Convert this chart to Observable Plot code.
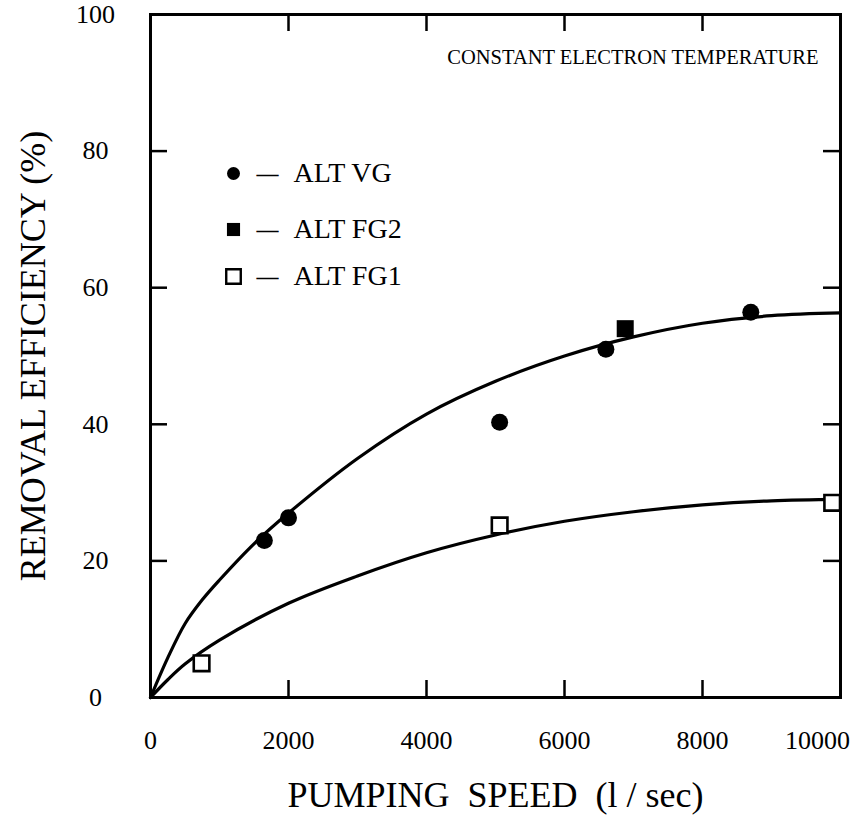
<!DOCTYPE html>
<html>
<head>
<meta charset="utf-8">
<script src="https://cdn.jsdelivr.net/npm/d3@7"></script>
<script src="https://cdn.jsdelivr.net/npm/@observablehq/plot@0.6"></script>
<style>
  html, body { margin: 0; padding: 0; background: #fff; }
  svg { font-family: "Liberation Serif", "Times New Roman", serif; }
</style>
</head>
<body>
<div id="chart"></div>
<script>
// ---- data ----
const vgX = [1650, 2000, 5060, 6600, 8700];
const vgY = [23.0, 26.3, 40.3, 51.0, 56.4];
const fg2X = [6880];
const fg2Y = [54.0];
const fg1X = [740, 5060, 9880];
const fg1Y = [5.0, 25.2, 28.5];

// fitted curves as drawn in the figure
const upperX = [0, 250, 500, 750, 1000, 1500, 2000, 3000, 4000, 5000, 6000, 7000, 8000, 9000, 10000];
const upperY = [0, 5.8, 10.8, 14.3, 17.2, 22.5, 27.0, 35.0, 41.5, 46.3, 50.0, 52.8, 54.8, 55.9, 56.3];
const lowerX = [0, 250, 500, 1000, 2000, 3000, 4000, 5000, 6000, 7000, 8000, 9000, 10000];
const lowerY = [0, 2.6, 4.9, 8.4, 13.8, 17.8, 21.2, 23.8, 25.8, 27.2, 28.2, 28.8, 29.0];

const xTickLabels = [0, 2000, 4000, 6000, 8000];
const xLastTick = [10000];
const yTickLabels = [0, 20, 40, 60, 80, 100];
const xInnerTicks = [2000, 4000, 6000, 8000];
const yInnerTicks = [20, 40, 60, 80];

const legendLabels = ["ALT VG", "ALT FG2", "ALT FG1"];
const xTitle = "PUMPING  SPEED  (l / sec)";
const yTitle = "REMOVAL EFFICIENCY (%)";
const note = "CONSTANT ELECTRON TEMPERATURE";

const pts = (xs, ys) => xs.map((x, i) => ({x, y: ys[i]}));

const W = 860, H = 818;
const mt = 14, mr = 20, mb = 121, ml = 150;
const fw = W - ml - mr, fh = H - mt - mb;
const tick = 17;
const font = "Liberation Serif";

const legendRows = [159, 215, 262];

const chart = Plot.plot({
  width: W,
  height: H,
  marginTop: mt, marginRight: mr, marginBottom: mb, marginLeft: ml,
  style: {fontFamily: font, background: "#fff", color: "#000", overflow: "visible"},
  x: {domain: [0, 10000], axis: null},
  y: {domain: [0, 100], axis: null},
  marks: [
    Plot.frame({stroke: "#000", strokeWidth: 3}),
    // inward ticks
    Plot.ruleX(xInnerTicks, {x: d => d, insetTop: fh - tick, stroke: "#000", strokeWidth: 2.5}),
    Plot.ruleX(xInnerTicks, {x: d => d, insetBottom: fh - tick, stroke: "#000", strokeWidth: 2.5}),
    Plot.ruleY(yInnerTicks, {y: d => d, insetRight: fw - tick, stroke: "#000", strokeWidth: 2.5}),
    Plot.ruleY(yInnerTicks, {y: d => d, insetLeft: fw - tick, stroke: "#000", strokeWidth: 2.5}),
    // tick labels
    Plot.text(xTickLabels, {x: d => d, text: d => String(d), frameAnchor: "bottom", dy: 43, lineAnchor: "middle", fontSize: 26, fill: "#000"}),
    Plot.text(xLastTick, {x: d => d, text: d => String(d), frameAnchor: "bottom", dy: 43, dx: -23, lineAnchor: "middle", fontSize: 26, fill: "#000"}),
    Plot.text(yTickLabels, {y: d => d, text: d => String(d), frameAnchor: "left", dx: -55, lineAnchor: "middle", textAnchor: "middle", fontSize: 26, fill: "#000"}),
    // axis titles
    Plot.text([xTitle], {frameAnchor: "bottom", dy: 98, textAnchor: "middle", lineAnchor: "middle", fontSize: 36, fill: "#000", style: {whiteSpace: "pre"}}),
    Plot.text([yTitle], {frameAnchor: "left", dx: -117, rotate: -90, textAnchor: "middle", lineAnchor: "middle", fontSize: 36, fill: "#000"}),
    // note
    Plot.text([note], {frameAnchor: "top-right", dx: -22, dy: 43, textAnchor: "end", lineAnchor: "middle", fontSize: 20.5, fill: "#000"}),
    // curves
    Plot.line(pts(upperX, upperY), {x: "x", y: "y", curve: "catmull-rom", stroke: "#000", strokeWidth: 3.2}),
    Plot.line(pts(lowerX, lowerY), {x: "x", y: "y", curve: "catmull-rom", stroke: "#000", strokeWidth: 3.2}),
    // data points
    Plot.dot(pts(vgX, vgY), {x: "x", y: "y", r: 8.5, fill: "#000", stroke: "none"}),
    Plot.dot(pts(fg2X, fg2Y), {x: "x", y: "y", symbol: "square", r: 9.6, fill: "#000", stroke: "none"}),
    Plot.dot(pts(fg1X, fg1Y), {x: "x", y: "y", symbol: "square", r: 8.8, fill: "#fff", stroke: "#000", strokeWidth: 2.6}),
    // legend
    Plot.dot([0], {frameAnchor: "top-left", dx: 83, dy: legendRows[0], r: 6.5, fill: "#000", stroke: "none"}),
    Plot.dot([0], {frameAnchor: "top-left", dx: 83, dy: legendRows[1], symbol: "square", r: 7.4, fill: "#000", stroke: "none"}),
    Plot.dot([0], {frameAnchor: "top-left", dx: 83, dy: legendRows[2], symbol: "square", r: 8.2, fill: "#fff", stroke: "#000", strokeWidth: 2.4}),
    ...legendLabels.map((lab, i) => Plot.text(["—"], {frameAnchor: "top-left", dx: 117, dy: legendRows[i], textAnchor: "middle", lineAnchor: "middle", fontSize: 22, fontWeight: "bold", fill: "#000"})),
    ...legendLabels.map((lab, i) => Plot.text([lab], {frameAnchor: "top-left", dx: 143, dy: legendRows[i], textAnchor: "start", lineAnchor: "middle", fontSize: 28, fill: "#000", style: {letterSpacing: "-1px"}}))
  ]
});
document.getElementById("chart").appendChild(chart);
</script>
</body>
</html>
